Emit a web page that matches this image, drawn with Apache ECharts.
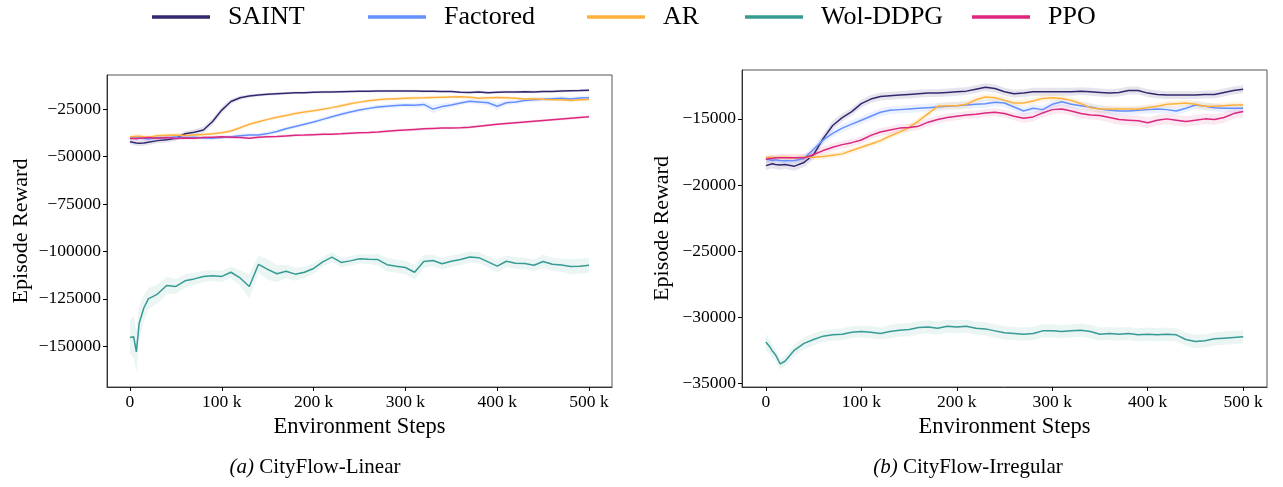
<!DOCTYPE html>
<html>
<head>
<meta charset="utf-8">
<script src="https://cdn.jsdelivr.net/npm/echarts@6/dist/echarts.min.js"></script>
<style>
  html, body { margin: 0; padding: 0; background: #fff; }
  #chart { width: 1283px; height: 487px; }
</style>
</head>
<body>
<div id="chart"></div>
<script>
// x positions (environment steps), shared by every curve
var steps = [0, 4000, 7000, 10000, 15000, 20000,
  30000, 40000, 50000, 60000, 70000, 80000, 90000, 100000, 110000, 120000,
  130000, 140000, 150000, 160000, 170000, 180000, 190000, 200000, 210000, 220000,
  230000, 240000, 250000, 260000, 270000, 280000, 290000, 300000, 310000, 320000,
  330000, 340000, 350000, 360000, 370000, 380000, 390000, 400000, 410000, 420000,
  430000, 440000, 450000, 460000, 470000, 480000, 490000, 500000];
var xTicks = [0, 100000, 200000, 300000, 400000, 500000];
var yTicksLinear = [-150000, -125000, -100000, -75000, -50000, -25000];
var yTicksIrregular = [-35000, -30000, -25000, -20000, -15000];

// ---- (a) CityFlow-Linear ----
var saintLinear = [-42200, -42600, -42900, -43000, -42800, -42400,
  -41600, -41200, -40300, -38000, -37200, -36000, -31500, -25500, -21000, -19000,
  -18100, -17600, -17200, -16900, -16600, -16400, -16300, -16100, -16000, -15900,
  -15800, -15700, -15600, -15600, -15500, -15500, -15400, -15500, -15500, -15600,
  -15600, -15700, -15700, -16100, -16200, -15900, -16300, -16100, -15900, -16000,
  -15800, -15900, -15700, -15700, -15500, -15300, -15200, -15000];
var saintLinearSd = [1500, 1500, 1600, 1600, 1500, 1500,
  1400, 1400, 1400, 1500, 1600, 1700, 1800, 1700, 1400, 1100,
  900, 800, 800, 800, 700, 700, 700, 700, 700, 700,
  700, 700, 700, 700, 700, 700, 700, 700, 700, 700,
  700, 700, 700, 700, 700, 700, 700, 700, 700, 700,
  700, 700, 700, 700, 700, 700, 700, 700];
var factoredLinear = [-40400, -40300, -40200, -40200, -40500, -40800,
  -40000, -40100, -39700, -40000, -39800, -40200, -40400, -40000, -39600, -39000,
  -38600, -38600, -37900, -36800, -35300, -34200, -33000, -31800, -30400, -29000,
  -27700, -26500, -25500, -24600, -23900, -23500, -23100, -22800, -23000, -22500,
  -25000, -23600, -22800, -21800, -20800, -21200, -21600, -23500, -21600, -21200,
  -20400, -20000, -19800, -19500, -19300, -19600, -19100, -19000];
var factoredLinearSd = [1200, 1200, 1200, 1200, 1200, 1200,
  1000, 1000, 1000, 1000, 1000, 1000, 1000, 1000, 1000, 1000,
  1000, 1000, 1000, 1000, 1000, 1000, 1000, 1000, 1100, 1100,
  1100, 1100, 1100, 1100, 1200, 1200, 1200, 1200, 1400, 1500,
  2200, 1600, 1300, 1200, 1200, 1300, 1500, 2000, 1400, 1200,
  1200, 1200, 1200, 1200, 1200, 1200, 1200, 1200];
var arLinear = [-39500, -39400, -39300, -39300, -39600, -39800,
  -39000, -38800, -38600, -38900, -38600, -38400, -38000, -37500, -36500, -34800,
  -33000, -31600, -30400, -29300, -28300, -27300, -26500, -25900, -25100, -24200,
  -23200, -22200, -21300, -20600, -20000, -19700, -19500, -19300, -19100, -19000,
  -18800, -18700, -18600, -18500, -18700, -19200, -19000, -18800, -19000, -19300,
  -19600, -19500, -19800, -20000, -20100, -20500, -20100, -19900];
var arLinearSd = [1200, 1200, 1200, 1200, 1200, 1200,
  1000, 1000, 1000, 1000, 1000, 1000, 1000, 900, 900, 900,
  900, 900, 900, 900, 900, 900, 900, 900, 900, 900,
  900, 900, 900, 900, 900, 900, 900, 900, 900, 900,
  900, 900, 900, 900, 900, 900, 900, 900, 900, 900,
  900, 900, 900, 900, 900, 900, 900, 900];
var wolLinear = [-145400, -145000, -153000, -138000, -130000, -125000,
  -122500, -118000, -118500, -115500, -114500, -113200, -112800, -113200, -111000, -114000,
  -118500, -106800, -109500, -111800, -110500, -112000, -111000, -109000, -105500, -103000,
  -105800, -105000, -103900, -104200, -104300, -107000, -107800, -108500, -111000, -105300,
  -104800, -106500, -105200, -104300, -103000, -103300, -105500, -107800, -105200, -106200,
  -106400, -107300, -105300, -106800, -107200, -108000, -107800, -107300];
var wolLinearSd = [9000, 11000, 11000, 9000, 7000, 5500,
  5000, 4500, 4000, 3500, 3200, 3000, 3000, 3000, 3000, 4000,
  6500, 4500, 5500, 4500, 3500, 3500, 3000, 2800, 2500, 2500,
  2500, 2500, 2500, 2500, 3000, 3500, 3500, 3500, 4000, 3500,
  3000, 3000, 3000, 3000, 3000, 3000, 3000, 3500, 3000, 3000,
  3000, 3000, 3500, 3500, 3500, 4000, 4000, 4000];
var ppoLinear = [-40500, -40400, -40600, -40400, -40200, -40000,
  -40300, -40000, -40500, -40200, -40300, -40000, -39800, -39600, -39800, -40000,
  -40300, -39800, -39500, -39400, -39100, -38800, -38700, -38500, -38300, -38200,
  -38000, -37700, -37500, -37300, -37000, -36600, -36300, -36000, -35700, -35400,
  -35200, -35000, -35000, -34800, -34500, -34000, -33500, -33000, -32600, -32200,
  -31800, -31400, -31000, -30600, -30200, -29800, -29400, -29000];
var ppoLinearSd = [900, 900, 900, 900, 900, 900,
  800, 800, 800, 800, 800, 800, 800, 800, 800, 800,
  800, 800, 800, 800, 800, 800, 800, 800, 800, 800,
  800, 800, 800, 800, 800, 800, 800, 800, 800, 800,
  800, 800, 800, 800, 800, 800, 800, 800, 800, 800,
  800, 800, 800, 800, 800, 800, 800, 800];

// ---- (b) CityFlow-Irregular ----
var saintIrregular = [-18540, -18450, -18400, -18450, -18500, -18450,
  -18580, -18300, -17700, -16500, -15500, -14900, -14450, -13850, -13500, -13300,
  -13250, -13200, -13150, -13100, -13050, -13050, -13000, -12950, -12900, -12750,
  -12600, -12700, -12950, -13100, -13050, -12950, -12950, -12950, -12950, -12950,
  -12900, -12950, -13000, -13050, -13000, -12850, -12850, -13050, -13150, -13200,
  -13200, -13200, -13200, -13150, -13150, -13000, -12850, -12750];
var saintIrregularSd = [350, 350, 350, 350, 350, 350,
  350, 350, 350, 350, 350, 300, 300, 300, 300, 300,
  300, 300, 300, 300, 300, 300, 300, 300, 300, 300,
  300, 300, 300, 300, 300, 300, 300, 300, 300, 300,
  300, 300, 300, 300, 300, 300, 300, 300, 300, 300,
  300, 300, 300, 300, 300, 300, 300, 300];
var factoredIrregular = [-18050, -18100, -18150, -18100, -18150, -18170,
  -18150, -18000, -17300, -16600, -16100, -15700, -15400, -15100, -14800, -14500,
  -14350, -14300, -14250, -14200, -14150, -14100, -14050, -14000, -13950, -13900,
  -13850, -13750, -13800, -14100, -14400, -14200, -14300, -13900, -13700, -13900,
  -14000, -14100, -14250, -14350, -14400, -14400, -14350, -14300, -14250, -14300,
  -14400, -14200, -13950, -14050, -14150, -14200, -14200, -14200];
var factoredIrregularSd = [250, 250, 250, 250, 250, 250,
  250, 300, 300, 300, 300, 300, 300, 300, 300, 300,
  300, 300, 300, 300, 300, 300, 300, 300, 300, 300,
  300, 300, 300, 300, 300, 300, 300, 300, 300, 300,
  300, 300, 300, 300, 300, 300, 300, 300, 300, 300,
  300, 300, 300, 300, 300, 300, 300, 300];
var arIrregular = [-17950, -17900, -17900, -17950, -17900, -17900,
  -17950, -17900, -17900, -17850, -17750, -17650, -17400, -17150, -16900, -16650,
  -16300, -16000, -15650, -15150, -14600, -14050, -14000, -14000, -13900, -13550,
  -13350, -13400, -13600, -13800, -13800, -13650, -13450, -13400, -13450, -13600,
  -13850, -14150, -14250, -14250, -14250, -14250, -14250, -14150, -14050, -13900,
  -13850, -13800, -13900, -14050, -14050, -14000, -13950, -13950];
var arIrregularSd = [200, 200, 200, 200, 200, 200,
  200, 200, 200, 200, 200, 200, 200, 200, 200, 200,
  250, 250, 250, 250, 250, 250, 250, 250, 250, 250,
  250, 250, 250, 250, 250, 250, 250, 250, 250, 250,
  250, 250, 250, 250, 250, 250, 250, 250, 250, 250,
  250, 250, 250, 250, 250, 250, 250, 250];
var wolIrregular = [-31890, -32250, -32600, -32850, -33550, -33350,
  -32500, -32000, -31700, -31450, -31350, -31300, -31150, -31100, -31150, -31250,
  -31100, -31000, -30950, -30800, -30750, -30850, -30700, -30750, -30700, -30850,
  -30900, -31050, -31200, -31250, -31300, -31250, -31050, -31050, -31100, -31050,
  -31000, -31100, -31300, -31250, -31300, -31250, -31350, -31300, -31350, -31300,
  -31350, -31700, -31850, -31800, -31650, -31600, -31550, -31500];
var wolIrregularSd = [600, 550, 500, 450, 400, 400,
  450, 450, 450, 450, 450, 450, 450, 450, 450, 450,
  500, 500, 500, 500, 500, 500, 500, 500, 500, 500,
  500, 500, 500, 500, 500, 500, 500, 500, 500, 500,
  500, 500, 500, 500, 500, 500, 500, 500, 500, 500,
  500, 500, 500, 500, 500, 500, 500, 500];
var ppoIrregular = [-18050, -18000, -18000, -17950, -17950, -17950,
  -17950, -17950, -17700, -17400, -17150, -16950, -16800, -16600, -16250, -16000,
  -15850, -15700, -15650, -15550, -15250, -15050, -14900, -14800, -14700, -14650,
  -14550, -14500, -14600, -14800, -14950, -14850, -14550, -14300, -14250, -14400,
  -14600, -14700, -14750, -14900, -15050, -15100, -15150, -15300, -15100, -15000,
  -15100, -15200, -15100, -15000, -15050, -14900, -14600, -14450];
var ppoIrregularSd = [250, 250, 250, 250, 250, 250,
  300, 300, 300, 300, 300, 300, 300, 300, 300, 300,
  300, 300, 300, 300, 300, 300, 300, 300, 300, 300,
  300, 300, 300, 300, 350, 350, 350, 350, 350, 350,
  350, 350, 350, 400, 400, 400, 400, 400, 400, 400,
  400, 400, 400, 400, 400, 400, 400, 400];

var names = ["SAINT", "Factored", "AR", "Wol-DDPG", "PPO"];
var colors = ["#33286f", "#648fff", "#ffb13c", "#369b93", "#dc267f"];
var bandColors = ["rgba(51,40,111,0.12)", "rgba(100,143,255,0.12)", "rgba(255,177,60,0.14)",
  "rgba(54,155,147,0.10)", "rgba(220,38,127,0.10)"];

var panels = [
  { vals: [saintLinear, factoredLinear, arLinear, wolLinear, ppoLinear],
    sds: [saintLinearSd, factoredLinearSd, arLinearSd, wolLinearSd, ppoLinearSd] },
  { vals: [saintIrregular, factoredIrregular, arIrregular, wolIrregular, ppoIrregular],
    sds: [saintIrregularSd, factoredIrregularSd, arIrregularSd, wolIrregularSd, ppoIrregularSd] }
];

var font = "Liberation Serif";

// shaded band: one polygon through the upper edge and back along the lower edge
function bandRender(color) {
  return function (params, api) {
    if (params.dataIndexInside !== 0) return;
    var n = params.dataInsideLength, up = [], lo = [];
    for (var i = 0; i < n; i++) {
      up.push(api.coord([api.value(0, i), api.value(2, i)]));
      lo.unshift(api.coord([api.value(0, i), api.value(1, i)]));
    }
    return { type: "polygon", shape: { points: up.concat(lo) }, style: { fill: color } };
  };
}

var series = [];
panels.forEach(function (p, g) {
  p.vals.forEach(function (v, k) {
    series.push({
      type: "custom", xAxisIndex: g, yAxisIndex: g, silent: true,
      encode: { x: 0, y: [1, 2] },
      renderItem: bandRender(bandColors[k]),
      data: steps.map(function (s, i) { return [s, v[i] - p.sds[k][i], v[i] + p.sds[k][i]]; })
    });
  });
});
panels.forEach(function (p, g) {
  p.vals.forEach(function (v, k) {
    series.push({
      name: names[k], type: "line", xAxisIndex: g, yAxisIndex: g,
      symbol: "none", color: colors[k],
      lineStyle: { width: 1.5, color: colors[k] },
      data: steps.map(function (s, i) { return [s, v[i]]; })
    });
  });
});

function yFmt(v) { return (v < 0 ? "\u2212" : "") + Math.abs(v); }
function xFmt(v) { return v === 0 ? "0" : (v / 1000) + " k"; }

var tickLabel = { color: "#000", fontFamily: font, fontSize: 17.5 };
var axisLine = { show: true, onZero: false, lineStyle: { color: "#333", width: 1 } };
function xAxis(g) {
  return {
    type: "value", gridIndex: g, min: -25000, max: 525000,
    name: "Environment Steps", nameLocation: "middle", nameGap: 24,
    nameTextStyle: { color: "#000", fontFamily: font, fontSize: 22.5 },
    axisLine: axisLine, splitLine: { show: false },
    axisTick: { show: true, length: 4, customValues: xTicks, lineStyle: { color: "#000" } },
    axisLabel: Object.assign({ customValues: xTicks, formatter: xFmt, margin: 6 }, tickLabel)
  };
}
function yAxis(g, min, max, ticks, gap) {
  return {
    type: "value", gridIndex: g, min: min, max: max,
    name: "Episode Reward", nameLocation: "middle", nameGap: gap,
    nameTextStyle: { color: "#000", fontFamily: font, fontSize: 22 },
    axisLine: axisLine, splitLine: { show: false },
    axisTick: { show: true, length: 4, customValues: ticks, lineStyle: { color: "#000" } },
    axisLabel: Object.assign({ customValues: ticks, formatter: yFmt, margin: 6 }, tickLabel)
  };
}

var legendLefts = [152, 368, 587, 745, 972];
var legends = names.map(function (n, k) {
  return {
    data: [n], left: legendLefts[k], top: 2, padding: 0, icon: "rect",
    itemWidth: 58, itemHeight: 3.5, selectedMode: false,
    textStyle: { color: "#000", fontFamily: font, fontSize: 26, lineHeight: 30, padding: [0, 0, 0, 13] }
  };
});

var capStyle = {
  color: "#000", fontFamily: font, fontSize: 21, fontWeight: "normal",
  rich: { i: { fontFamily: font, fontSize: 21, fontStyle: "italic", color: "#000" } }
};

var option = {
  backgroundColor: "#fff",
  animation: false,
  legend: legends,
  title: [
    { text: "{i|(a)} CityFlow-Linear", left: 310, textAlign: "center", top: 452, textStyle: capStyle },
    { text: "{i|(b)} CityFlow-Irregular", left: 963, textAlign: "center", top: 452, textStyle: capStyle }
  ],
  grid: [
    { left: 107, top: 75, width: 505, height: 312, show: true, borderColor: "#555", borderWidth: 1 },
    { left: 742, top: 70, width: 525, height: 317, show: true, borderColor: "#555", borderWidth: 1 }
  ],
  xAxis: [xAxis(0), xAxis(1)],
  yAxis: [yAxis(0, -171500, -7000, yTicksLinear, 75), yAxis(1, -35300, -11300, yTicksIrregular, 69)],
  series: series
};

var myChart = echarts.init(document.getElementById("chart"));
myChart.setOption(option);
</script>
</body>
</html>
